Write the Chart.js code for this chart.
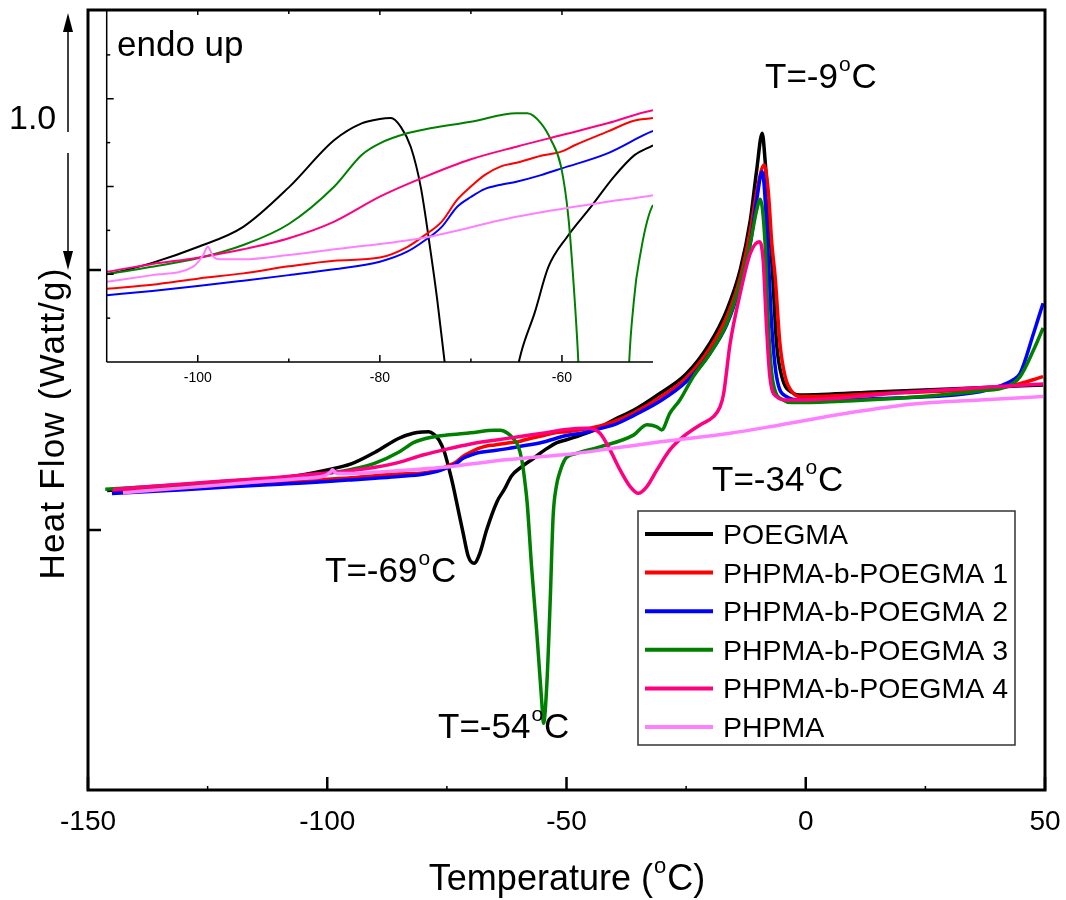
<!DOCTYPE html>
<html>
<head>
<meta charset="utf-8">
<title>DSC curves</title>
<style>
    body { margin: 0; padding: 0; background: #fff; }
    #wrap { position: relative; width: 1066px; height: 900px; }
    #main, #inset { position: absolute; left: 0; top: 0; }
</style>
<script src="https://cdn.jsdelivr.net/npm/chart.js"></script>
</head>
<body>
<div id="wrap">
    <canvas id="main" width="1066" height="900"></canvas>
    <canvas id="inset" width="700" height="420"></canvas>
</div>
<script>
// temperature (°C), heat flow (W/g, arbitrary offset)
const poegma = [[-146,1.152],[-130,1.172],[-120,1.187],[-110,1.200],[-105,1.213],[-100,1.231],[-95,1.254],[-90,1.299],[-85,1.353],[-82,1.372],[-80,1.377],[-78.8,1.378],[-77.7,1.368],[-76.6,1.345],[-75.5,1.299],[-74.4,1.224],[-73.7,1.171],[-73,1.11],[-71.6,0.988],[-70.5,0.897],[-69.3,0.872],[-68.1,0.911],[-66.7,1.0],[-64.5,1.11],[-63,1.156],[-61.5,1.208],[-59.4,1.243],[-56.8,1.277],[-54.3,1.311],[-52,1.336],[-50,1.347],[-46,1.372],[-43,1.395],[-40,1.425],[-36,1.46],[-30.5,1.525],[-25,1.60],[-20,1.72],[-16.5,1.846],[-13.7,2.0],[-11.6,2.19],[-10.25,2.385],[-9.1,2.526],[-8.5,2.423],[-7.8,2.231],[-6.9,1.974],[-6.1,1.718],[-5.0,1.59],[-2.6,1.526],[-1.2,1.519],[15.5,1.532],[36.4,1.547],[49.6,1.558]];
const block1 = [[-145,1.150],[-130,1.163],[-120,1.173],[-110,1.1835],[-105,1.188],[-100,1.195],[-95,1.201],[-90,1.209],[-85,1.2155],[-80,1.219],[-77,1.231],[-75,1.245],[-73.2,1.26],[-71.5,1.285],[-70,1.30],[-68.5,1.313],[-66.7,1.323],[-65,1.327],[-62.3,1.335],[-60,1.340],[-58.6,1.347],[-55,1.3625],[-52.1,1.375],[-50,1.378],[-46,1.388],[-43,1.40],[-40,1.418],[-36,1.45],[-30.5,1.51],[-25,1.585],[-20,1.70],[-16.5,1.82],[-13.7,1.97],[-11.6,2.15],[-10.25,2.30],[-8.7,2.404],[-7.8,2.295],[-7.1,2.103],[-6.4,1.974],[-5.4,1.718],[-4.3,1.59],[-2.6,1.526],[-1.2,1.513],[15.5,1.525],[36.4,1.542],[43.3,1.556],[49.6,1.59]];
const block2 = [[-145,1.140],[-130,1.155],[-120,1.166],[-110,1.176],[-105,1.181],[-100,1.1866],[-95,1.1927],[-90,1.199],[-85,1.2056],[-80,1.2143],[-77,1.2257],[-75,1.239],[-73.2,1.254],[-71.5,1.277],[-70,1.288],[-68.5,1.297],[-66.7,1.302],[-65,1.3055],[-62.3,1.313],[-60,1.3207],[-55,1.3378],[-50,1.3632],[-46,1.375],[-43,1.39],[-40,1.405],[-36,1.44],[-30.5,1.495],[-25,1.57],[-20,1.68],[-16.5,1.79],[-13.7,1.94],[-11.6,2.10],[-10.25,2.27],[-9.1,2.378],[-7.8,2.038],[-7.1,1.782],[-6.1,1.59],[-4.0,1.513],[-1.2,1.50],[15.5,1.506],[36.4,1.532],[40.6,1.554],[43.3,1.577],[44.8,1.603],[47.6,1.756],[49.6,1.872]];
const block3 = [[-146.4,1.1565],[-130,1.175],[-120,1.189],[-110,1.2003],[-105,1.2086],[-100,1.2182],[-95,1.2333],[-90,1.2573],[-85,1.30],[-82,1.336],[-80,1.3492],[-77,1.3606],[-75,1.3652],[-70,1.3738],[-65,1.3834],[-63.8,1.3834],[-62.3,1.372],[-61.2,1.353],[-60.1,1.3226],[-59.3,1.2656],[-58.6,1.1707],[-58.2,1.10],[-57.3,0.859],[-56.2,0.603],[-55.2,0.346],[-54.8,0.2565],[-54.1,0.41],[-53.4,0.731],[-52.8,1.051],[-52.1,1.17],[-51.3,1.228],[-50.6,1.262],[-50,1.279],[-47.9,1.295],[-43,1.32],[-36,1.365],[-33.2,1.405],[-31.1,1.397],[-30.1,1.385],[-28.4,1.449],[-26.3,1.5],[-23.5,1.59],[-20,1.679],[-16.5,1.795],[-13.7,1.949],[-11.6,2.103],[-10.25,2.231],[-9.5,2.272],[-8.5,2.103],[-7.8,1.782],[-6.8,1.564],[-4.7,1.5],[-3,1.49],[15.5,1.503],[36.4,1.535],[42,1.551],[44.8,1.59],[47.6,1.692],[49.6,1.777]];
const block4 = [[-144.8,1.156],[-130,1.177],[-120,1.19],[-110,1.2029],[-105,1.2117],[-100,1.2189],[-95,1.2284],[-90,1.241],[-85,1.26],[-80,1.2884],[-75,1.3112],[-70,1.331],[-65,1.3454],[-60,1.3587],[-55,1.372],[-50,1.387],[-45.8,1.391],[-43,1.372],[-40.9,1.308],[-38.8,1.231],[-36.7,1.167],[-35.0,1.141],[-33.2,1.167],[-31.1,1.231],[-28.4,1.308],[-25.6,1.359],[-22.1,1.404],[-19.3,1.436],[-17.9,1.474],[-17.2,1.52],[-15.8,1.718],[-13.7,1.91],[-11.6,2.064],[-9.7,2.109],[-8.9,2.038],[-8.2,1.782],[-7.5,1.59],[-6.1,1.513],[-4.0,1.5],[-1.2,1.5],[22.5,1.532],[49.6,1.562]];
const phpma = [[-142.7,1.1435],[-130,1.162],[-120,1.177],[-110,1.1915],[-105,1.199],[-100.5,1.2086],[-99.4,1.222],[-98.9,1.2314],[-98.3,1.220],[-97.6,1.217],[-95,1.217],[-90,1.222],[-85,1.2284],[-75,1.242],[-65,1.2656],[-55,1.2827],[-50,1.290],[-40,1.315],[-30,1.34],[-15.8,1.372],[-5.4,1.404],[8.5,1.449],[22.5,1.485],[36.4,1.50],[49.6,1.513]];

const seriesNames = ['POEGMA', 'PHPMA-b-POEGMA 1', 'PHPMA-b-POEGMA 2', 'PHPMA-b-POEGMA 3', 'PHPMA-b-POEGMA 4', 'PHPMA'];
const seriesValues = [poegma, block1, block2, block3, block4, phpma];
const seriesColors = ['#000000', '#ff0000', '#0000ff', '#008000', '#ff0080', '#ff80ff'];

const mainXTicks = [-150, -100, -50, 0, 50];
const mainXMinor = [-125, -75, -25, 25];
const mainYTicks = [1, 2];
const insetXTicks = [-100, -80, -60];
const insetXMinor = [-90, -70];
const insetYTicks = [1.2, 1.3, 1.4];
const insetYMinor = [1.15, 1.25, 1.35, 1.45];
const scaleBar = [2, 3]; // arrow spans 1.0 W/g

const FONT = '"Liberation Sans", Arial, Helvetica, sans-serif';

function makeSets(width) {
    return seriesValues.map((pts, i) => ({
        label: seriesNames[i],
        data: pts.map(p => ({ x: p[0], y: p[1] })),
        borderColor: seriesColors[i],
        borderWidth: width,
        pointRadius: 0,
        fill: false,
        cubicInterpolationMode: 'monotone',
        order: seriesValues.length - i
    }));
}

function seg(ctx, x1, y1, x2, y2) {
    ctx.beginPath(); ctx.moveTo(x1, y1); ctx.lineTo(x2, y2); ctx.stroke();
}

// text with a superscript "o" (degree) between two parts
function drawSup(ctx, pre, post, x, base, size, centered) {
    const big = size + 'px ' + FONT, small = Math.round(size * 0.6) + 'px ' + FONT;
    ctx.font = big;
    const w1 = ctx.measureText(pre).width, w3 = ctx.measureText(post).width;
    ctx.font = small;
    const w2 = ctx.measureText('o').width;
    const x0 = centered ? x - (w1 + w2 + w3 + 2) / 2 : x;
    ctx.textAlign = 'left';
    ctx.textBaseline = 'alphabetic';
    ctx.font = big; ctx.fillText(pre, x0, base);
    ctx.font = small; ctx.fillText('o', x0 + w1 + 1, base - size * 0.48);
    ctx.font = big; ctx.fillText(post, x0 + w1 + w2 + 2, base);
}

const peakLabels = [
    ['T=-9', 'C', 765, 88],
    ['T=-34', 'C', 712, 491],
    ['T=-69', 'C', 325, 582],
    ['T=-54', 'C', 438, 738]
];

const mainDecor = {
    id: 'mainDecor',
    afterDraw(chart) {
        const { ctx, chartArea: a, scales: { x, y } } = chart;
        ctx.save();
        ctx.strokeStyle = '#000';
        ctx.fillStyle = '#000';
        ctx.lineWidth = 3;
        ctx.strokeRect(a.left, a.top, a.right - a.left, a.bottom - a.top);

        ctx.lineWidth = 2.5;
        mainXTicks.forEach(v => { const px = x.getPixelForValue(v); seg(ctx, px, a.bottom, px, a.bottom - 13); });
        ctx.lineWidth = 1.5;
        mainXMinor.forEach(v => { const px = x.getPixelForValue(v); seg(ctx, px, a.bottom, px, a.bottom - 4); });
        ctx.lineWidth = 2.5;
        mainYTicks.forEach(v => { const py = y.getPixelForValue(v); seg(ctx, a.left, py, a.left + 13, py); });

        // scale bar arrow
        const ax = 68, yTop = y.getPixelForValue(scaleBar[1]) + 3, yBot = y.getPixelForValue(scaleBar[0]);
        ctx.lineWidth = 1.5;
        seg(ctx, ax, yTop + 16, ax, 132);
        seg(ctx, ax, 153, ax, yBot - 16);
        ctx.beginPath(); ctx.moveTo(ax, yTop); ctx.lineTo(ax - 5, yTop + 19); ctx.lineTo(ax + 5, yTop + 19); ctx.closePath(); ctx.fill();
        ctx.beginPath(); ctx.moveTo(ax, yBot); ctx.lineTo(ax - 5, yBot - 19); ctx.lineTo(ax + 5, yBot - 19); ctx.closePath(); ctx.fill();

        ctx.textAlign = 'left';
        ctx.textBaseline = 'alphabetic';
        ctx.font = '34px ' + FONT;
        ctx.fillText('1.0', 9, 129);
        ctx.font = '35px ' + FONT;
        ctx.fillText('endo up', 117, 56);

        peakLabels.forEach(l => drawSup(ctx, l[0], l[1], l[2], l[3], 35, false));

        // axis titles
        drawSup(ctx, 'Temperature (', 'C)', 567, 890, 36, true);
        ctx.save();
        ctx.translate(63.5, 423.5);
        ctx.rotate(-Math.PI / 2);
        ctx.textAlign = 'center';
        ctx.font = '35px ' + FONT;
        ctx.letterSpacing = '1.2px';
        ctx.fillText('Heat Flow (Watt/g)', 0, 0);
        ctx.restore();

        // legend
        const bx = 638, by = 511, bw = 377, bh = 234;
        ctx.fillStyle = '#fff';
        ctx.fillRect(bx, by, bw, bh);
        ctx.strokeStyle = '#333';
        ctx.lineWidth = 1.5;
        ctx.strokeRect(bx, by, bw, bh);
        ctx.font = '28.5px ' + FONT;
        chart.data.datasets.forEach((ds, i) => {
            const cy = 534 + i * 38.6;
            ctx.strokeStyle = ds.borderColor;
            ctx.lineWidth = 4;
            seg(ctx, 645, cy, 713, cy);
            ctx.fillStyle = '#000';
            ctx.fillText(ds.label, 723, cy + 10);
        });
        ctx.restore();
    }
};

const insetDecor = {
    id: 'insetDecor',
    afterDraw(chart) {
        const { ctx, chartArea: a, scales: { x, y } } = chart;
        ctx.save();
        ctx.strokeStyle = '#000';
        ctx.lineWidth = 1.5;
        seg(ctx, a.left, a.top, a.left, a.bottom);
        seg(ctx, a.left, a.bottom, a.right, a.bottom);
        insetXTicks.forEach(v => { const px = x.getPixelForValue(v); seg(ctx, px, a.bottom, px, a.bottom - 7); seg(ctx, px, a.top, px, a.top + 4); });
        insetXMinor.forEach(v => { const px = x.getPixelForValue(v); seg(ctx, px, a.bottom, px, a.bottom - 3.5); seg(ctx, px, a.top, px, a.top + 3); });
        insetYTicks.forEach(v => { const py = y.getPixelForValue(v); seg(ctx, a.left, py, a.left + 7, py); });
        insetYMinor.forEach(v => { const py = y.getPixelForValue(v); seg(ctx, a.left, py, a.left + 3.5, py); });
        ctx.restore();
    }
};

function tickSetter(values) {
    return s => { s.ticks = values.map(v => ({ value: v })); };
}

// keep the edge labels from shrinking the plot area
function noEdgePad(s) {
    s.paddingLeft = 0;
    s.paddingRight = 0;
}

new Chart(document.getElementById('main'), {
    type: 'line',
    data: { datasets: makeSets(3.5) },
    options: {
        responsive: false,
        animation: false,
        events: [],
        layout: { padding: { left: 88, top: 10, right: 21, bottom: 46 } },
        plugins: { legend: { display: false }, tooltip: { enabled: false } },
        scales: {
            x: {
                type: 'linear', min: -150, max: 50,
                afterBuildTicks: tickSetter(mainXTicks),
                afterFit: noEdgePad,
                grid: { display: false, drawTicks: false },
                border: { display: false },
                ticks: { font: { family: FONT, size: 28 }, color: '#000', padding: 15.2, maxRotation: 0, autoSkip: false }
            },
            y: { type: 'linear', min: 0, max: 3, display: false }
        }
    },
    plugins: [mainDecor]
});

new Chart(document.getElementById('inset'), {
    type: 'line',
    data: { datasets: makeSets(2) },
    options: {
        responsive: false,
        animation: false,
        events: [],
        layout: { padding: { left: 106.7, top: 11, right: 47, bottom: 26 } },
        plugins: { legend: { display: false }, tooltip: { enabled: false } },
        scales: {
            x: {
                type: 'linear', min: -110, max: -50,
                afterBuildTicks: tickSetter(insetXTicks),
                afterFit: noEdgePad,
                grid: { display: false, drawTicks: false },
                border: { display: false },
                ticks: { font: { family: FONT, size: 14 }, color: '#000', padding: 7.6, maxRotation: 0, autoSkip: false }
            },
            y: { type: 'linear', min: 1.1, max: 1.5, display: false }
        }
    },
    plugins: [insetDecor]
});
</script>
</body>
</html>
